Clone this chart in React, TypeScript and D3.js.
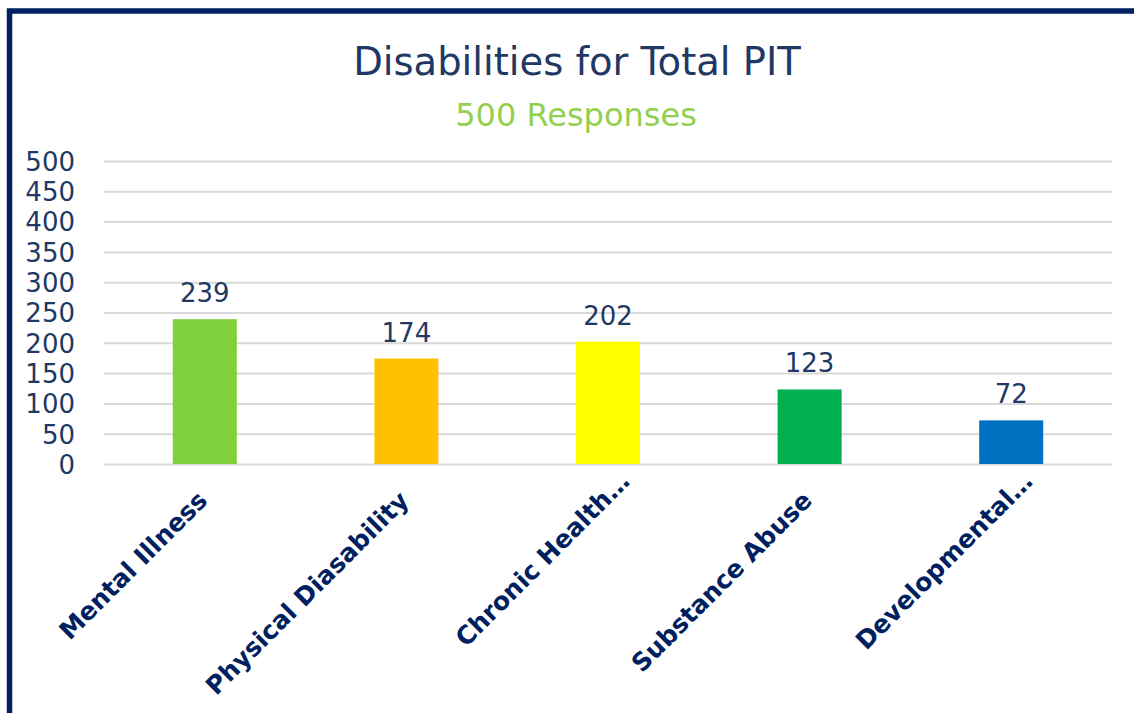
import { useEffect, useRef } from "react";
import * as d3 from "d3";

const categories = ["Mental Illness", "Physical Diasability", "Chronic Health…", "Substance Abuse", "Developmental…"];
const counts = [239, 174, 202, 123, 72];
const barColors = ["#7ED13B", "#FFC000", "#FFFF00", "#00B050", "#0070C0"];
const yTicks = [0, 50, 100, 150, 200, 250, 300, 350, 400, 450, 500];
const title = "Disabilities for Total PIT";
const subtitle = "500 Responses";

const W = 1134;
const H = 713;
const navy = "#002060";
const textNavy = "#1F3864";
const font = "'DejaVu Sans', sans-serif";

export default function App() {
  const ref = useRef<SVGSVGElement>(null);

  useEffect(() => {
    if (!ref.current) return;
    const svg = d3.select(ref.current);
    svg.selectAll("*").remove();

    const margin = { top: 161, right: 22, bottom: 249, left: 104 };

    // outer frame, runs off the right and bottom edges like the screenshot
    svg
      .append("rect")
      .attr("x", 9.5)
      .attr("y", 11)
      .attr("width", W + 40)
      .attr("height", H + 40)
      .attr("fill", "#fff")
      .attr("stroke", navy)
      .attr("stroke-width", 5.5);

    const x = d3
      .scaleBand<string>()
      .domain(categories)
      .range([margin.left, W - margin.right])
      .paddingInner(0.6825)
      .paddingOuter(0.34125);

    const y = d3
      .scaleLinear()
      .domain([0, 500])
      .range([H - margin.bottom, margin.top]);

    // gridlines + tick labels
    const yAxis = svg
      .append("g")
      .attr("transform", `translate(${margin.left},0)`)
      .call(
        d3
          .axisLeft(y)
          .tickValues(yTicks)
          .tickSize(-(W - margin.left - margin.right))
          .tickPadding(29)
      );
    yAxis.select(".domain").remove();
    yAxis.selectAll(".tick line").attr("stroke", "#D9D9D9").attr("stroke-width", 2);
    yAxis
      .selectAll(".tick text")
      .attr("fill", textNavy)
      .attr("font-family", font)
      .attr("font-size", 26)
      .attr("dy", "0.36em");

    svg
      .append("g")
      .selectAll("rect")
      .data(counts)
      .join("rect")
      .attr("x", (_, i) => x(categories[i]) ?? 0)
      .attr("y", (d) => y(d))
      .attr("width", x.bandwidth())
      .attr("height", (d) => y(0) - y(d))
      .attr("fill", (_, i) => barColors[i]);

    svg
      .append("g")
      .selectAll("text")
      .data(counts)
      .join("text")
      .attr("x", (_, i) => (x(categories[i]) ?? 0) + x.bandwidth() / 2)
      .attr("y", (d) => y(d) - 17)
      .attr("text-anchor", "middle")
      .attr("fill", textNavy)
      .attr("font-family", font)
      .attr("font-size", 26)
      .text((d) => d);

    // rotated category labels
    svg
      .append("g")
      .selectAll("text")
      .data(categories)
      .join("text")
      .attr("transform", (d) => {
        const cx = (x(d) ?? 0) + x.bandwidth() / 2 + 4;
        return `translate(${cx},502) rotate(-45)`;
      })
      .attr("dx", (d) => (d.endsWith("…") ? 27 : 0))
      .attr("text-anchor", "end")
      .attr("fill", navy)
      .attr("font-family", font)
      .attr("font-weight", "bold")
      .attr("font-size", 25)
      .text((d) => d);

    svg
      .append("text")
      .attr("x", 577)
      .attr("y", 75)
      .attr("text-anchor", "middle")
      .attr("fill", textNavy)
      .attr("font-family", font)
      .attr("font-size", 38.5)
      .text(title);

    svg
      .append("text")
      .attr("x", 576)
      .attr("y", 126)
      .attr("text-anchor", "middle")
      .attr("fill", "#92D050")
      .attr("font-family", font)
      .attr("font-size", 32)
      .text(subtitle);
  }, []);

  return (
    <svg
      ref={ref}
      width={W}
      height={H}
      style={{ position: "absolute", left: 0, top: 0, display: "block" }}
    />
  );
}
